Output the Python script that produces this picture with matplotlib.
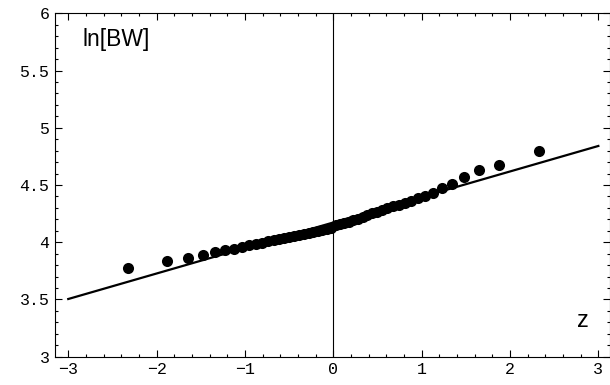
import matplotlib
matplotlib.use("Agg")
import matplotlib.pyplot as plt
from matplotlib.ticker import MultipleLocator, FuncFormatter

# normal scores (z) and ln of birth weight
z = [-2.326, -1.881, -1.645, -1.476, -1.341, -1.227, -1.126, -1.036, -0.954, -0.878,
     -0.806, -0.739, -0.674, -0.613, -0.553, -0.496, -0.440, -0.385, -0.332, -0.279,
     -0.228, -0.176, -0.126, -0.075, -0.025, 0.025, 0.075, 0.126, 0.176, 0.228,
     0.279, 0.332, 0.385, 0.440, 0.496, 0.553, 0.613, 0.674, 0.739, 0.806,
     0.878, 0.954, 1.036, 1.126, 1.227, 1.341, 1.476, 1.645, 1.881, 2.326]
ln_bw = [3.778, 3.836, 3.865, 3.891, 3.915, 3.930, 3.944, 3.958, 3.972, 3.985,
         3.997, 4.008, 4.019, 4.029, 4.039, 4.048, 4.057, 4.066, 4.075, 4.084,
         4.093, 4.102, 4.110, 4.118, 4.127, 4.147, 4.158, 4.170, 4.181, 4.195,
         4.207, 4.222, 4.238, 4.252, 4.268, 4.282, 4.298, 4.313, 4.328, 4.345,
         4.362, 4.385, 4.405, 4.432, 4.475, 4.508, 4.570, 4.628, 4.672, 4.795]

# reference line
line_z = [-3, 3]
line_y = [3.504, 4.841]

fig = plt.figure(figsize=(6.1, 3.85), dpi=100)
ax = fig.add_axes([55 / 610, 1 - 356.7 / 385, 555 / 610, (356.7 - 13.3) / 385])

ax.axvline(0, color="black", lw=0.8)
ax.plot(line_z, line_y, color="black", lw=1.6)
ax.plot(z, ln_bw, "o", color="black", ms=8, mew=0)

ax.set_xlim(-3.15, 3.132)
ax.set_ylim(3, 6)

ax.xaxis.set_major_locator(MultipleLocator(1))
ax.xaxis.set_minor_locator(MultipleLocator(0.2))
ax.yaxis.set_major_locator(MultipleLocator(0.5))
ax.yaxis.set_minor_locator(MultipleLocator(0.1))

def fmt(v, pos):
    if abs(v - round(v)) < 1e-9:
        s = "%d" % round(v)
    else:
        s = "%.1f" % v
    return s.replace("-", "\u2212")

ax.xaxis.set_major_formatter(FuncFormatter(fmt))
ax.yaxis.set_major_formatter(FuncFormatter(fmt))

ax.tick_params(which="both", direction="in", top=True, right=True, width=0.8,
               labelsize=12, colors="black")
ax.tick_params(which="major", length=5, pad=4)
ax.tick_params(which="minor", length=2.5)
for lab in ax.get_xticklabels() + ax.get_yticklabels():
    lab.set_family("Liberation Mono")

for sp in ax.spines.values():
    sp.set_linewidth(0.8)

ax.text(-2.84, 5.77, "ln[BW]", fontsize=16.5, family="Liberation Sans", va="center", ha="left")
ax.text(2.83, 3.31, "z", fontsize=17, family="Liberation Sans", va="center", ha="center")

fig.savefig("out.png", dpi=100)
